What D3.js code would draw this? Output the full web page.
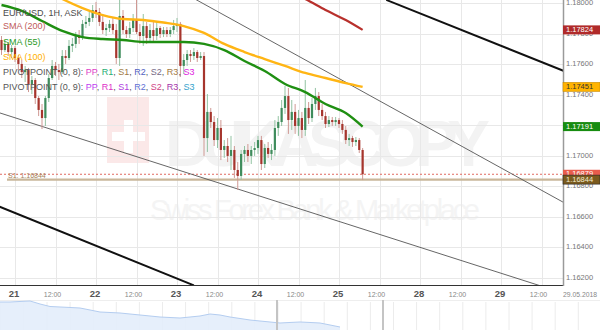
<!DOCTYPE html>
<html>
<head>
<meta charset="utf-8">
<script src="https://cdn.jsdelivr.net/npm/d3@7"></script>
<style>
  body { margin: 0; background: #fff; }
  svg { display: block; font-family: "Liberation Sans", Arial, sans-serif; }
</style>
</head>
<body>
<svg width="600" height="330"></svg>
<script>
// hourly candles, hour 0 = 21 May 00:00 (weekend hours skipped)
const firstHour = -4;
const opens = [1.17758,
  1.17692, 1.17732, 1.17679, 1.17705, 1.17640, 1.17601, 1.17548, 1.17561, 1.17470, 1.17496,
  1.17378, 1.17300, 1.17247, 1.17378, 1.17509, 1.17588, 1.17561, 1.17548, 1.17653, 1.17640,
  1.17719, 1.17732, 1.17784, 1.17771, 1.17863, 1.17876, 1.17902, 1.17954, 1.17941, 1.17876,
  1.17823, 1.17836, 1.17863, 1.17823, 1.17640, 1.17915, 1.17823, 1.17797, 1.17836, 1.17889,
  1.17810, 1.17784, 1.17849, 1.17771, 1.17823, 1.17784, 1.17836, 1.17797, 1.17823, 1.17797,
  1.17823, 1.17849, 1.17863, 1.17588, 1.17627, 1.17666, 1.17653, 1.17679, 1.17640, 1.17653,
  1.17116, 1.17287, 1.17221, 1.17103, 1.17182, 1.17038, 1.17064, 1.16999, 1.17038, 1.16907,
  1.16868, 1.17012, 1.17038, 1.16999, 1.17038, 1.17051, 1.17103, 1.16946, 1.17051, 1.17012,
  1.17038, 1.17182, 1.17221, 1.17313, 1.17391, 1.17234, 1.17287, 1.17195, 1.17247, 1.17169,
  1.17313, 1.17247, 1.17339, 1.17391, 1.17300, 1.17260, 1.17208, 1.17234, 1.17221, 1.17234,
  1.17208, 1.17169, 1.17103, 1.17116, 1.17090, 1.17103, 1.17038];
const highs = [
  1.17784, 1.17758, 1.17745, 1.17725, 1.17719, 1.17660, 1.17627, 1.17588, 1.17575, 1.17522,
  1.17509, 1.17391, 1.17339, 1.17391, 1.17535, 1.17627, 1.17614, 1.17601, 1.17692, 1.17692,
  1.17758, 1.17771, 1.17810, 1.17823, 1.17889, 1.17915, 1.17941, 1.17987, 1.18007, 1.17967,
  1.17928, 1.17863, 1.17889, 1.17902, 1.17863, 1.18020, 1.17954, 1.17849, 1.17876, 1.17928,
  1.18020, 1.17863, 1.17928, 1.17876, 1.17863, 1.17889, 1.17876, 1.17849, 1.17843, 1.17843,
  1.17843, 1.17889, 1.17902, 1.17876, 1.17666, 1.17692, 1.17692, 1.17705, 1.17692, 1.17679,
  1.17679, 1.17404, 1.17313, 1.17260, 1.17247, 1.17234, 1.17103, 1.17116, 1.17130, 1.17064,
  1.16959, 1.17038, 1.17064, 1.17077, 1.17064, 1.17090, 1.17130, 1.17130, 1.17077, 1.17090,
  1.17077, 1.17234, 1.17260, 1.17365, 1.17457, 1.17444, 1.17365, 1.17339, 1.17300, 1.17287,
  1.17496, 1.17352, 1.17378, 1.17444, 1.17417, 1.17339, 1.17287, 1.17260, 1.17254, 1.17254,
  1.17247, 1.17234, 1.17195, 1.17143, 1.17130, 1.17123, 1.17116, 1.17051];
const lows = [
  1.17660, 1.17679, 1.17653, 1.17640, 1.17614, 1.17561, 1.17509, 1.17483, 1.17417, 1.17404,
  1.17339, 1.17260, 1.17175, 1.17195, 1.17352, 1.17496, 1.17522, 1.17496, 1.17535, 1.17601,
  1.17627, 1.17679, 1.17705, 1.17732, 1.17758, 1.17836, 1.17849, 1.17876, 1.17902, 1.17849,
  1.17797, 1.17784, 1.17810, 1.17797, 1.17601, 1.17588, 1.17797, 1.17771, 1.17771, 1.17810,
  1.17797, 1.17732, 1.17719, 1.17732, 1.17745, 1.17745, 1.17758, 1.17771, 1.17777, 1.17777,
  1.17777, 1.17797, 1.17810, 1.17516, 1.17535, 1.17588, 1.17614, 1.17627, 1.17614, 1.17627,
  1.16999, 1.17025, 1.17182, 1.17064, 1.17051, 1.16972, 1.16986, 1.16959, 1.16907, 1.16855,
  1.16776, 1.16842, 1.16959, 1.16959, 1.16946, 1.16999, 1.17012, 1.16907, 1.16920, 1.16986,
  1.16972, 1.16999, 1.17130, 1.17195, 1.17274, 1.17143, 1.17169, 1.17143, 1.17130, 1.17116,
  1.17130, 1.17208, 1.17221, 1.17300, 1.17260, 1.17234, 1.17182, 1.17188, 1.17195, 1.17195,
  1.17182, 1.17143, 1.17077, 1.17064, 1.17058, 1.17064, 1.17018, 1.16841];
const closes = [
  1.17692, 1.17732, 1.17679, 1.17705, 1.17640, 1.17601, 1.17548, 1.17561, 1.17470, 1.17496,
  1.17378, 1.17300, 1.17247, 1.17378, 1.17509, 1.17588, 1.17561, 1.17548, 1.17653, 1.17640,
  1.17719, 1.17732, 1.17784, 1.17771, 1.17863, 1.17876, 1.17902, 1.17954, 1.17941, 1.17876,
  1.17823, 1.17836, 1.17863, 1.17823, 1.17640, 1.17915, 1.17823, 1.17797, 1.17836, 1.17889,
  1.17810, 1.17784, 1.17849, 1.17771, 1.17823, 1.17784, 1.17836, 1.17797, 1.17823, 1.17797,
  1.17823, 1.17849, 1.17863, 1.17588, 1.17627, 1.17666, 1.17653, 1.17679, 1.17640, 1.17653,
  1.17116, 1.17287, 1.17221, 1.17103, 1.17182, 1.17038, 1.17064, 1.16999, 1.17038, 1.16907,
  1.16868, 1.17012, 1.17038, 1.16999, 1.17038, 1.17051, 1.17103, 1.16946, 1.17051, 1.17012,
  1.17038, 1.17182, 1.17221, 1.17313, 1.17391, 1.17234, 1.17287, 1.17195, 1.17247, 1.17169,
  1.17313, 1.17247, 1.17339, 1.17391, 1.17300, 1.17260, 1.17208, 1.17234, 1.17221, 1.17234,
  1.17208, 1.17169, 1.17103, 1.17116, 1.17090, 1.17103, 1.17038, 1.16879];

// moving averages
const sma55Hours = [-4, 2, 8, 14, 20, 26, 32, 38, 44, 50, 56, 62, 68, 74, 80, 86, 92, 98, 103];
const sma55 = [1.17987, 1.17948, 1.17882, 1.17817, 1.17777, 1.17764, 1.17758, 1.17745, 1.17745, 1.17745,
  1.17732, 1.17692, 1.17620, 1.17555, 1.17470, 1.17417, 1.17339, 1.17280, 1.17191];
const sma100Hours = [8, 14, 20, 26, 32, 38, 44, 50, 56, 62, 68, 74, 80, 86, 92, 98, 103];
const sma100 = [1.18098, 1.18026, 1.17967, 1.17921, 1.17895, 1.17889, 1.17872, 1.17849, 1.17804,
  1.17732, 1.17679, 1.17633, 1.17588, 1.17542, 1.17509, 1.17476, 1.17451];
const sma200Hours = [80, 86, 92, 98, 103];
const sma200 = [1.18085, 1.18026, 1.17954, 1.17889, 1.17824];

// trend lines: [hour1, price1, hour2, price2]
const thickLines = [[110, 1.18020, 163, 1.17552], [-5, 1.16670, 53, 1.16152]];
const thinLines = [[52, 1.18042, 163, 1.16689], [-5, 1.17284, 163, 1.16097]];

const bidPrice = 1.16879;
const s1Price = 1.16844;

const yTicks = [1.162, 1.164, 1.166, 1.168, 1.170, 1.172, 1.174, 1.176, 1.178, 1.180];
const xTickHours = [0, 12, 24, 36, 48, 60, 72, 84, 96, 108, 120, 132, 144, 156];
const xTickLabels = ["21", "12:00", "22", "12:00", "23", "12:00", "24", "12:00", "25", "12:00", "28", "12:00", "29", "12:00"];
const dateLabel = "29.05.2018";

// navigator series (longer history)
const navValues = [1.2393, 1.2393, 1.2408, 1.2422, 1.2337, 1.2266, 1.2252, 1.2238, 1.2223, 1.2167,
  1.2110, 1.2096, 1.2082, 1.2053, 1.2025, 1.1997, 1.1968, 1.1954, 1.1940, 1.1968,
  1.1997, 1.2053, 1.2025, 1.1968, 1.1926, 1.1883, 1.1855, 1.1827, 1.1798, 1.1813,
  1.1827, 1.1813, 1.1798, 1.1742, 1.1685];
const navWindow = [27.7, 38.3];

const legendTitle = "EUR/USD, 1H, ASK";
const smaLabels = ["SMA (200)", "SMA (55)", "SMA (100)"];
const pivotLabels = ["PIVOTPOINT (0, 8): ", "PIVOTPOINT (0, 9): "];
const pivotNames = ["PP", "R1", "S1", "R2", "S2", "R3", "S3"];

const svg = d3.select("svg");
const plotW = 563, plotH = 285;

const x = d3.scaleLinear().domain([0, 120]).range([15, 420]);
const y = d3.scaleLinear().domain([1.162, 1.18]).range([278, 3]);

const candles = closes.map((c, k) => ({
  h: firstHour + k, o: opens[k], hi: highs[k], lo: lows[k], c: c
}));

svg.append("rect").attr("width", 600).attr("height", 330).attr("fill", "#fff");

svg.append("defs").append("clipPath").attr("id", "plotClip")
  .append("rect").attr("width", plotW).attr("height", plotH);

const plot = svg.append("g").attr("clip-path", "url(#plotClip)");

// watermark
const wm = plot.append("g");
wm.append("rect").attr("x", 107).attr("y", 97).attr("width", 42).attr("height", 66).attr("fill", "#fbe8e8");
wm.append("rect").attr("x", 124).attr("y", 120).attr("width", 9).attr("height", 33).attr("fill", "#fff");
wm.append("rect").attr("x", 112).attr("y", 132).attr("width", 33).attr("height", 9).attr("fill", "#fff");
wm.append("text").attr("x", 165).attr("y", 166).attr("textLength", 325)
  .style("font-size", "64px").style("font-weight", "bold").attr("fill", "#f3f3f3").text("DUKASCOPY");
wm.append("text").attr("x", 150).attr("y", 220).attr("textLength", 330)
  .style("font-size", "29px").attr("fill", "#f4f4f4").text("Swiss Forex Bank & Marketplace");

// grid
plot.append("g").selectAll("line").data(yTicks).join("line")
  .attr("x1", 0).attr("x2", plotW)
  .attr("y1", d => Math.round(y(d)) + 0.5).attr("y2", d => Math.round(y(d)) + 0.5)
  .attr("stroke", "#e8e8e8");
plot.append("g").selectAll("line").data(xTickHours).join("line")
  .attr("x1", d => Math.round(x(d)) + 0.5).attr("x2", d => Math.round(x(d)) + 0.5)
  .attr("y1", 0).attr("y2", plotH)
  .attr("stroke", "#e8e8e8");

// pivot S1 and bid lines
plot.append("line")
  .attr("x1", 7).attr("x2", plotW).attr("y1", y(s1Price)).attr("y2", y(s1Price))
  .attr("stroke", "#c9b79b").attr("stroke-width", 2.2);
plot.append("line")
  .attr("x1", 0).attr("x2", plotW).attr("y1", y(bidPrice)).attr("y2", y(bidPrice))
  .attr("stroke", "#e06a60").attr("stroke-dasharray", "2,2");
plot.append("text")
  .attr("x", 8).attr("y", y(s1Price) - 1.5)
  .style("font-size", "7px").attr("fill", "#a4825a").text("S1: " + s1Price.toFixed(5));

// trend lines
plot.append("g").selectAll("line").data(thinLines).join("line")
  .attr("x1", d => x(d[0])).attr("y1", d => y(d[1]))
  .attr("x2", d => x(d[2])).attr("y2", d => y(d[3]))
  .attr("stroke", "#555").attr("stroke-width", 0.9);

// candles
const cg = plot.append("g");
cg.selectAll("line").data(candles).join("line")
  .attr("x1", d => x(d.h)).attr("x2", d => x(d.h))
  .attr("y1", d => y(d.hi)).attr("y2", d => y(d.lo))
  .attr("stroke", d => d.c >= d.o ? "#93c3a3" : "#cf9893")
  .attr("stroke-width", 1);
cg.selectAll("rect").data(candles).join("rect")
  .attr("x", d => x(d.h) - 1.1).attr("width", 2.2)
  .attr("y", d => y(Math.max(d.o, d.c)))
  .attr("height", d => Math.max(1, Math.abs(y(d.o) - y(d.c))))
  .attr("fill", d => d.c >= d.o ? "#3f8c5c" : "#a6352d");

// moving averages
const smaLine = d3.line().x(d => x(d[0])).y(d => y(d[1])).curve(d3.curveMonotoneX);
const smaSeries = [
  { hours: sma200Hours, values: sma200, color: "#b8302c", width: 2.2 },
  { hours: sma100Hours, values: sma100, color: "#ffb514", width: 2.4 },
  { hours: sma55Hours, values: sma55, color: "#1f8f12", width: 2.4 }
];
plot.append("g").selectAll("path").data(smaSeries).join("path")
  .attr("d", s => smaLine(s.hours.map((h, k) => [h, s.values[k]])))
  .attr("fill", "none")
  .attr("stroke", s => s.color)
  .attr("stroke-width", s => s.width);

plot.append("g").selectAll("line").data(thickLines).join("line")
  .attr("x1", d => x(d[0])).attr("y1", d => y(d[1]))
  .attr("x2", d => x(d[2])).attr("y2", d => y(d[3]))
  .attr("stroke", "#111").attr("stroke-width", 2);

// axes
svg.append("line").attr("x1", 0).attr("x2", plotW).attr("y1", plotH + 0.5).attr("y2", plotH + 0.5)
  .attr("stroke", "#333");
svg.append("line").attr("x1", plotW + 0.5).attr("x2", plotW + 0.5).attr("y1", 0).attr("y2", plotH + 1)
  .attr("stroke", "#9a9a9a").attr("stroke-width", 1.5);

svg.append("g").selectAll("text").data(yTicks).join("text")
  .attr("x", 566).attr("y", d => y(d))
  .attr("dominant-baseline", "middle")
  .style("font-size", "7.5px").attr("fill", "#777")
  .text(d => d.toFixed(5));

svg.append("g").selectAll("text").data(xTickHours).join("text")
  .attr("x", (d, i) => x(d) - (i % 2 ? 3 : 1))
  .attr("y", 297)
  .attr("text-anchor", "middle")
  .style("font-size", (d, i) => i % 2 ? "7px" : "9.5px")
  .style("font-weight", (d, i) => i % 2 ? "normal" : "bold")
  .attr("fill", (d, i) => i % 2 ? "#888" : "#555")
  .text((d, i) => xTickLabels[i]);
svg.append("text").attr("x", 580).attr("y", 297).attr("text-anchor", "middle")
  .style("font-size", "6.8px").attr("fill", "#888").text(dateLabel);

// last-value tags on the price axis
const tags = [
  { v: sma200[sma200.length - 1], bg: "#b02a2a", fg: "#fff", stroke: "none" },
  { v: sma100[sma100.length - 1], bg: "#ffb300", fg: "#333", stroke: "#c98a00" },
  { v: sma55[sma55.length - 1], bg: "#178c10", fg: "#fff", stroke: "none" },
  { v: bidPrice, bg: "#e85c4c", fg: "#fff", stroke: "none" },
  { v: s1Price, bg: "#7a5a1e", fg: "#f3ecd0", stroke: "#222" }
];
const tg = svg.append("g").selectAll("g").data(tags).join("g")
  .attr("transform", d => `translate(563,${y(d.v)})`);
tg.append("rect").attr("x", 0).attr("y", -4.5).attr("width", 37).attr("height", 9)
  .attr("fill", d => d.bg).attr("stroke", d => d.stroke).attr("stroke-width", 0.6);
tg.append("text").attr("x", 3).attr("y", 0).attr("dominant-baseline", "middle")
  .style("font-size", "7.5px").attr("fill", d => d.fg)
  .text(d => d.v.toFixed(5));

// navigator
const navX = d3.scaleLinear().domain([0, 60]).range([0, 600]);
const navY = d3.scaleLinear().domain([1.16, 1.245]).range([330, 300]);
const nav = svg.append("g");
nav.append("line").attr("x1", 0).attr("x2", 600).attr("y1", 300.5).attr("y2", 300.5).attr("stroke", "#eee");
nav.selectAll("line.g").data(d3.range(0.8, 600, 23.1)).join("line").attr("class", "g")
  .attr("x1", d => d).attr("x2", d => d).attr("y1", 302).attr("y2", 330)
  .attr("stroke", "#ececec");
nav.append("path")
  .datum(navValues)
  .attr("d", d3.area().x((d, i) => navX(i)).y0(330).y1(d => navY(d)))
  .attr("fill", "#e3edfb").attr("fill-opacity", 0.9);
nav.append("path")
  .datum(navValues)
  .attr("d", d3.line().x((d, i) => navX(i)).y(d => navY(d)))
  .attr("fill", "none").attr("stroke", "#b4cdf0");
nav.selectAll("line.h").data(navWindow).join("line").attr("class", "h")
  .attr("x1", d => navX(d)).attr("x2", d => navX(d)).attr("y1", 300).attr("y2", 330)
  .attr("stroke", "#c4c4c4").attr("stroke-width", 2);

// legend
const lg = svg.append("g").style("font-size", "9px");
lg.append("text").attr("x", 3).attr("y", 16).attr("fill", "#4a4a4a").text(legendTitle);
const smaColors = ["#c05a5a", "#2a9a1e", "#ffb000"];
lg.selectAll("text.sma").data(smaLabels).join("text").attr("class", "sma")
  .attr("x", 3).attr("y", (d, i) => [29, 45, 60][i])
  .attr("fill", (d, i) => smaColors[i]).text(d => d);
const pivotColors = [
  ["#e040c8", "#1fae74", "#a07a44", "#5262c2", "#766a86", "#a27a44", "#e020e0"],
  ["#c040f0", "#e030c8", "#b040e0", "#6070d4", "#d04486", "#a434ac", "#34a2cc"]
];
pivotLabels.forEach((lab, r) => {
  const t = lg.append("text").attr("x", 3).attr("y", [75, 90][r]);
  t.append("tspan").attr("fill", "#555").text(lab);
  pivotNames.forEach((n, k) => {
    t.append("tspan").attr("fill", pivotColors[r][k]).text(n);
    if (k < pivotNames.length - 1) t.append("tspan").attr("fill", "#555").text(", ");
  });
});
</script>
</body>
</html>
